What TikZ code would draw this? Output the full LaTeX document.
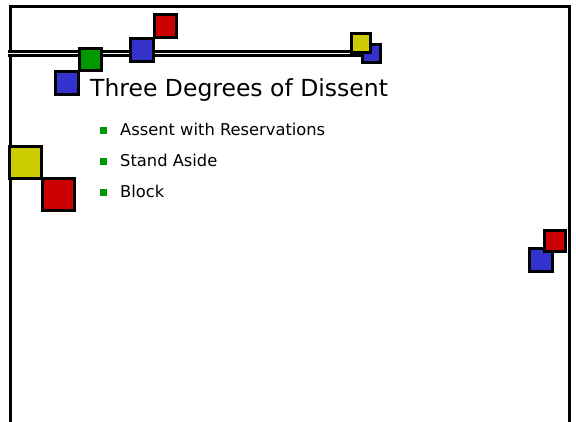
\documentclass[tikz,border=0pt]{standalone}
\usepackage{fontspec}
\setmainfont{DejaVu Sans}
\usepackage{tikz}
\definecolor{sqblue}{RGB}{51,51,204}
\definecolor{sqred}{RGB}{204,0,0}
\definecolor{sqgreen}{RGB}{0,153,0}
\definecolor{sqyellow}{RGB}{204,204,0}
\begin{document}
\begin{tikzpicture}[x=1pt,y=-1pt]
 \tikzstyle{tile} = [draw=black,line width=3pt,inner sep=0,outer sep=0]
 \tikzstyle{bullet} = [fill=sqgreen,minimum size=7pt,inner sep=0]
 \tikzstyle{item} = [anchor=base west,inner sep=0,font=\fontsize{16.3}{19}\selectfont]
 \useasboundingbox[fill=white] (0,0) rectangle (576,422);

% Frame of the slide (bottom edge is cut off)
 \coordinate (bl) at (10,430);
 \coordinate (tl) at (10,7);
 \coordinate (tr) at (569,7);
 \coordinate (br) at (569,430);
 \draw[line width=3pt] (bl) -- (tl) -- (tr) -- (br);

% Rule under the top
 \coordinate (rulel) at (8,53.5);
 \coordinate (ruler) at (375,53.5);
 \draw[line width=2.5pt,double=white,double distance=1.5pt] (rulel) -- (ruler);

% Tiles
 \node[tile,fill=sqred,minimum size=22.5pt] (topred) at (165.5,26) {};
 \node[tile,fill=sqblue,minimum size=23pt] (midblue) at (142,50) {};
 \node[tile,fill=sqgreen,minimum size=22pt] (green) at (90.5,59.5) {};
 \node[tile,fill=sqblue,minimum size=23pt] (leftblue) at (67,83) {};
 \node[tile,fill=sqblue,minimum size=18pt] (endblue) at (371.5,53.5) {};
 \node[tile,fill=sqyellow,minimum size=19pt] (endyellow) at (360.5,43) {};
 \node[tile,fill=sqyellow,minimum size=32pt] (sideyellow) at (25.5,162.5) {};
 \node[tile,fill=sqred,minimum size=32pt] (sidered) at (58.5,195) {};
 \node[tile,fill=sqblue,minimum size=23pt] (rightblue) at (540.5,260) {};
 \node[tile,fill=sqred,minimum size=21pt] (rightred) at (555,241) {};

% Title and items
 \node[anchor=base west,inner sep=0,font=\fontsize{23.5}{28}\selectfont] (title) at (90,97) {Three Degrees of Dissent};
 \node[bullet] (b1) at (103.5,130.5) {};
 \node[bullet] (b2) at (103.5,161.5) {};
 \node[bullet] (b3) at (103.5,192.5) {};
 \node[item] (i1) at (120,136) {Assent with Reservations};
 \node[item] (i2) at (120,167) {Stand Aside};
 \node[item] (i3) at (120,198) {Block};

\end{tikzpicture}
\end{document}
